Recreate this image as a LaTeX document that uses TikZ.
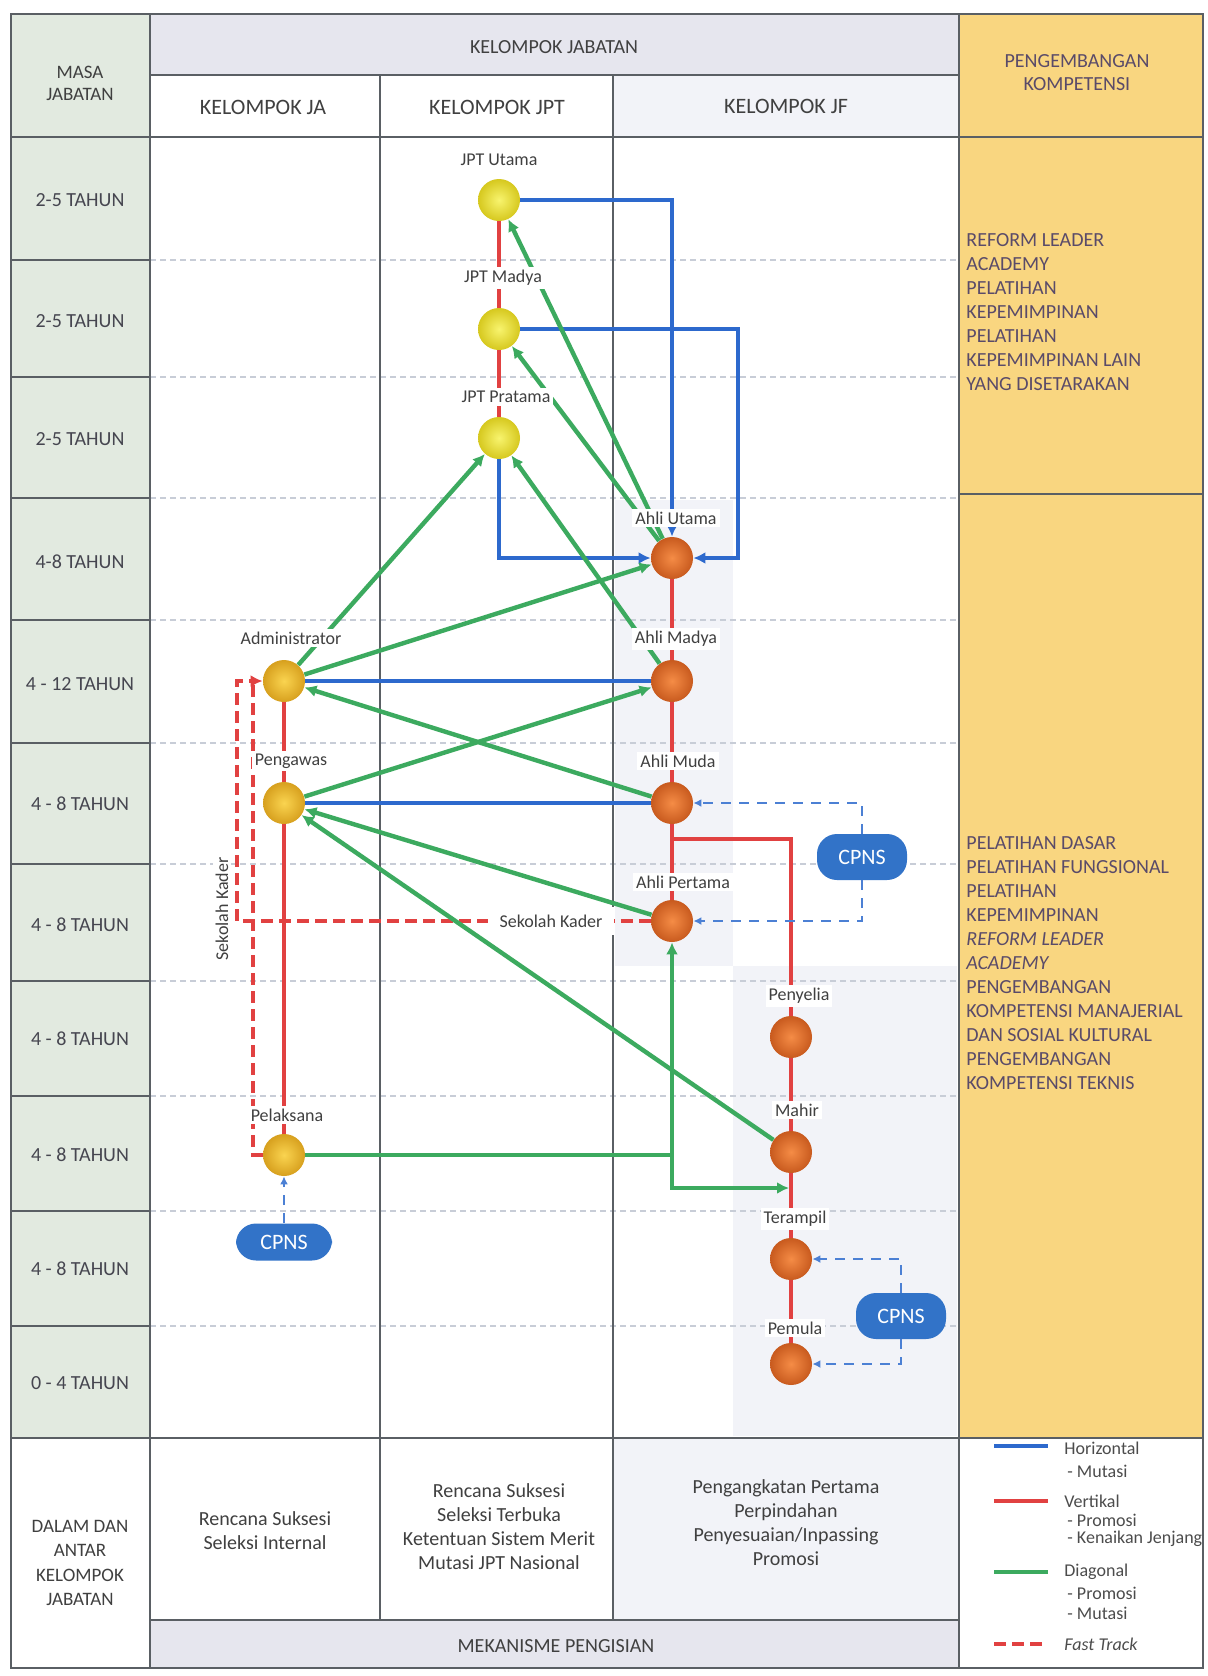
\documentclass[tikz,border=0pt]{standalone}
\usepackage{fontspec}
\setmainfont{Carlito}
\definecolor{jblue}{RGB}{45,105,205}
\definecolor{jred}{RGB}{225,65,65}
\definecolor{jgreen}{RGB}{60,170,95}
\definecolor{masagreen}{RGB}{226,234,224}
\definecolor{headgray}{RGB}{230,230,238}
\definecolor{jfgray}{RGB}{242,243,248}
\definecolor{kompgold}{RGB}{249,214,128}
\definecolor{cpnsblue}{RGB}{50,115,200}
\definecolor{gridgray}{RGB}{200,205,215}
\definecolor{framegray}{RGB}{90,95,100}
\definecolor{txtgray}{RGB}{70,70,80}
\definecolor{komptxt}{RGB}{90,75,105}
\definecolor{jptin}{RGB}{248,244,110}
\definecolor{jptout}{RGB}{214,200,30}
\definecolor{jain}{RGB}{250,212,80}
\definecolor{jaout}{RGB}{215,160,30}
\definecolor{jfin}{RGB}{245,140,70}
\definecolor{jfout}{RGB}{200,90,30}
\usepackage{tikz}
\usetikzlibrary{shapes,arrows.meta,positioning,calc}

\begin{document}
\begin{tikzpicture}[x=0.5pt, y=-0.5pt,
    every node/.style={font=\fontsize{9}{11}\selectfont, text=txtgray},
    tblline/.style={framegray, line width=1pt},
    rowline/.style={gridgray, line width=0.7pt, dash pattern=on 3pt off 2pt},
    horiz/.style={jblue, line width=1.8pt},
    vert/.style={jred, line width=1.8pt},
    diag/.style={jgreen, line width=2.2pt},
    fasttrack/.style={jred, line width=1.8pt, dash pattern=on 6pt off 3pt},
    cpnsdash/.style={jblue!85, line width=1.2pt, dash pattern=on 5pt off 4pt},
    endtip/.style={-{Latex[length=6pt,width=6pt]}},
    bothtips/.style={{Latex[length=6pt,width=6pt]}-{Latex[length=6pt,width=6pt]}},
    smalltip/.style={-{Latex[length=4pt,width=4pt]}},
    posball/.style={circle, minimum size=21pt, inner sep=0pt, shading=radial},
    jpt/.style={posball, inner color=jptin, outer color=jptout},
    ja/.style={posball, inner color=jain, outer color=jaout},
    jf/.style={posball, inner color=jfin, outer color=jfout},
    lbl/.style={fill=white, inner sep=1.5pt, text=black!75},
    cpns/.style={rounded corners=10pt, fill=cpnsblue, text=white, font=\fontsize{11}{13}\selectfont, minimum width=45pt, minimum height=23pt},
    masa/.style={font=\fontsize{10}{12}\selectfont},
    head/.style={font=\fontsize{11}{13}\selectfont, text=black!75},
    kompet/.style={font=\fontsize{10}{12}\selectfont, text=komptxt, align=left, anchor=north west, inner sep=0pt},
    isi/.style={font=\fontsize{10}{12}\selectfont, align=center, text=black!75},
    legtext/.style={font=\fontsize{9}{10}\selectfont, anchor=west, inner sep=0pt, text=black!70}]

    \useasboundingbox (0,0) rectangle (1207,1676);
    \fill[white] (0,0) rectangle (1207,1676);

    % backgrounds
    \fill[masagreen] (11,14) rectangle (150,1438);
    \fill[headgray] (150,14) rectangle (959,75);
    \fill[jfgray] (613,75) rectangle (959,137);
    \fill[kompgold] (959,14) rectangle (1203,1438);
    \fill[jfgray] (613,1438) rectangle (959,1620);
    \fill[headgray] (150,1620) rectangle (959,1668);
    \fill[jfgray] (615,500) rectangle (733,966);
    \fill[jfgray] (733,966) rectangle (957,1436);

    \foreach \y in {260,377,498,620,743,864,981,1096,1211,1326} {
        \draw[rowline] (150,\y) -- (959,\y);
        \draw[tblline] (11,\y) -- (150,\y);
    }

    % table
    \draw[tblline] (11,14) rectangle (1203,1668);
    \draw[tblline] (150,14) -- (150,1668);
    \draw[tblline] (959,14) -- (959,1668);
    \draw[tblline] (150,75) -- (959,75);
    \draw[tblline] (11,137) -- (1203,137);
    \draw[tblline] (380,75) -- (380,1620);
    \draw[tblline] (613,75) -- (613,1620);
    \draw[tblline] (11,1438) -- (1203,1438);
    \draw[tblline] (150,1620) -- (959,1620);
    \draw[tblline] (959,494) -- (1203,494);

    \node[head, align=center, font=\fontsize{9.5}{11}\selectfont] (hmasa) at (80,83) {MASA\\JABATAN};
    \node[head, font=\fontsize{10}{12}\selectfont] (hkel) at (554,47) {KELOMPOK JABATAN};
    \node[head] (hja) at (263,107) {KELOMPOK JA};
    \node[head] (hjpt) at (497,107) {KELOMPOK JPT};
    \node[head] (hjf) at (786,106) {KELOMPOK JF};
    \node[head, align=center, text=komptxt, font=\fontsize{10}{11.5}\selectfont] (hkomp) at (1077,73) {PENGEMBANGAN\\KOMPETENSI};

    \foreach \y/\t [count=\i] in {200/2-5 TAHUN, 321/2-5 TAHUN, 439/2-5 TAHUN, 562/4-8 TAHUN, 684/4 - 12 TAHUN, 804/4 - 8 TAHUN, 925/4 - 8 TAHUN, 1039/4 - 8 TAHUN, 1155/4 - 8 TAHUN, 1269/4 - 8 TAHUN, 1383/0 - 4 TAHUN}
        \node[masa] (row\i) at (80,\y) {\t};

    \node[kompet] (komp1) at (966,233) {REFORM LEADER\\ACADEMY\\PELATIHAN\\KEPEMIMPINAN\\PELATIHAN\\KEPEMIMPINAN LAIN\\YANG DISETARAKAN};
    \node[kompet] (komp2) at (966,836) {PELATIHAN DASAR\\PELATIHAN FUNGSIONAL\\PELATIHAN\\KEPEMIMPINAN\\\textit{REFORM LEADER}\\\textit{ACADEMY}\\PENGEMBANGAN\\KOMPETENSI MANAJERIAL\\DAN SOSIAL KULTURAL\\PENGEMBANGAN\\KOMPETENSI TEKNIS};

    \node[head, align=center, font=\fontsize{9.5}{12.3}\selectfont] (dalam) at (80,1563) {DALAM DAN\\ANTAR\\KELOMPOK\\JABATAN};
    \node[isi] (isija) at (265,1531) {Rencana Suksesi\\Seleksi Internal};
    \node[isi] (isijpt) at (499,1527) {Rencana Suksesi\\Seleksi Terbuka\\Ketentuan Sistem Merit\\Mutasi JPT Nasional};
    \node[isi] (isijf) at (786,1523) {Pengangkatan Pertama\\Perpindahan\\Penyesuaian/Inpassing\\Promosi};
    \node[head, font=\fontsize{10}{12}\selectfont] (mek) at (556,1646) {MEKANISME PENGISIAN};

    % positions
    \node[jpt] (jptutama) at (499,200) {};
    \node[jpt] (jptmadya) at (499,329) {};
    \node[jpt] (jptpratama) at (499,438) {};
    \node[jf] (ahliutama) at (672,558) {};
    \node[jf] (ahlimadya) at (672,681) {};
    \node[jf] (ahlimuda) at (672,803) {};
    \node[jf] (ahlipertama) at (672,921) {};
    \node[jf] (penyelia) at (791,1037) {};
    \node[jf] (mahir) at (791,1152) {};
    \node[jf] (terampil) at (791,1259) {};
    \node[jf] (pemula) at (791,1364) {};
    \node[ja] (admin) at (284,681) {};
    \node[ja] (pengawas) at (284,803) {};
    \node[ja] (pelaksana) at (284,1155) {};

    \node[cpns, minimum height=18.5pt, minimum width=48pt] (cpnsja) at (284,1242) {CPNS};
    \node[cpns] (cpnsjf) at (862,857) {CPNS};
    \node[cpns] (cpnsjf2) at (901,1316) {CPNS};

    \coordinate (bendmadya) at (738,329);
    \coordinate (fkouter) at (237,681);
    \coordinate (fkinner) at (253,681);
    \coordinate (redbranch) at (672,839);
    \coordinate (gsplit) at (672,1155);
    \coordinate (gturn) at (672,1188);
    \coordinate (mahirfoot) at (789,1188);

    % vertical
    \foreach \a/\b in {jptutama/jptmadya, jptmadya/jptpratama, ahliutama/ahlimadya, ahlimadya/ahlimuda, ahlimuda/ahlipertama, penyelia/mahir, mahir/terampil, terampil/pemula, admin/pengawas, pengawas/pelaksana}
        \draw[vert] (\a) -- (\b);
    \draw[vert] (penyelia) |- (redbranch);

    % horizontal
    \draw[horiz, endtip] (jptutama) -| (ahliutama);
    \draw[horiz, endtip] (jptmadya) -- (bendmadya) |- (ahliutama);
    \draw[horiz, endtip] (jptpratama) |- (ahliutama);
    \draw[horiz] (admin) -- (ahlimadya);
    \draw[horiz] (pengawas) -- (ahlimuda);

    \draw[cpnsdash, smalltip] (cpnsjf) |- (ahlimuda);
    \draw[cpnsdash, smalltip] (cpnsjf) |- (ahlipertama);
    \draw[cpnsdash, smalltip] (cpnsjf2) |- (terampil);
    \draw[cpnsdash, smalltip] (cpnsjf2) |- (pemula);
    \draw[cpnsdash, smalltip] (cpnsja) -- (pelaksana);

    % fast track
    \draw[fasttrack, endtip] (ahlipertama) -| (fkouter) -- (admin);
    \draw[fasttrack] (pelaksana) -| (fkinner);

    % diagonal
    \draw[diag, endtip] (admin) -- (jptpratama);
    \draw[diag, endtip] (admin) -- (ahliutama);
    \draw[diag, endtip] (ahlimadya) -- (jptpratama);
    \draw[diag, endtip] (ahliutama) -- (jptutama);
    \draw[diag, endtip] (ahliutama) -- (jptmadya);
    \draw[diag, endtip] (pengawas) -- (ahlimadya);
    \draw[diag, endtip] (ahlimuda) -- (admin);
    \draw[diag, endtip] (ahlipertama) -- (pengawas);
    \draw[diag, endtip] (mahir) -- (pengawas);
    \draw[diag] (pelaksana) -- (gsplit);
    \draw[diag, bothtips] (ahlipertama) -- (gturn) -- (mahirfoot);

    % labels
    \node[lbl] (lutama) at (499,160) {JPT Utama};
    \node[lbl] (lmadya) at (503,278) {JPT Madya};
    \node[lbl] (lpratama) at (506,397) {JPT Pratama};
    \node[lbl] (lahliutama) at (676,518) {Ahli Utama};
    \node[lbl] (lahlimadya) at (676,639) {Ahli Madya};
    \node[lbl] (lahlimuda) at (678,761) {Ahli Muda};
    \node[lbl] (lahlipertama) at (683,882) {Ahli Pertama};
    \node[lbl] (lpenyelia) at (799,996) {Penyelia};
    \node[lbl] (lmahir) at (797,1110) {Mahir};
    \node[lbl] (lterampil) at (795,1219) {Terampil};
    \node[lbl] (lpemula) at (795,1328) {Pemula};
    \node[lbl] (ladmin) at (291,638) {Administrator};
    \node[lbl] (lpengawas) at (291,761) {Pengawas};
    \node[lbl] (lpelaksana) at (287,1115) {Pelaksana};
    \node[lbl, inner xsep=6pt, inner ysep=4pt] (lkader) at (551,921) {Sekolah Kader};
    \node[lbl, rotate=90] (lkaderv) at (222,909) {Sekolah Kader};

    % legend
    \draw[horiz] (994,1446) -- (1048,1446);
    \draw[vert] (994,1501) -- (1048,1501);
    \draw[diag] (994,1572) -- (1048,1572);
    \draw[fasttrack] (994,1644) -- (1048,1644);
    \node[legtext] (lhor) at (1064,1448) {Horizontal};
    \node[legtext] (lhor1) at (1067,1471) {- Mutasi};
    \node[legtext] (lver) at (1064,1501) {Vertikal};
    \node[legtext] (lver1) at (1067,1520) {- Promosi};
    \node[legtext] (lver2) at (1067,1539) {- Kenaikan Jenjang};
    \node[legtext] (ldia) at (1064,1572) {Diagonal};
    \node[legtext] (ldia1) at (1067,1593) {- Promosi};
    \node[legtext] (ldia2) at (1067,1613) {- Mutasi};
    \node[legtext, font=\itshape\fontsize{9}{10}\selectfont] (lfast) at (1064,1644) {Fast Track};
\end{tikzpicture}
\end{document}
